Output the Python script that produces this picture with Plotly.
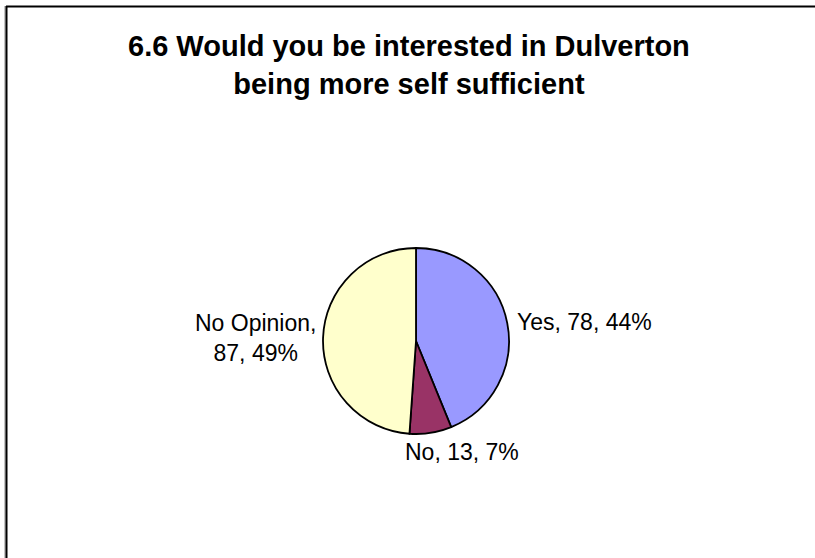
import math
import plotly.graph_objects as go

# ---- data ----
categories = ["Yes", "No", "No Opinion"]
counts = [78, 13, 87]
title_lines = ["6.6 Would you be interested in Dulverton", "being more self sufficient"]

# ---- styles ----
colors = ["#9999FF", "#993366", "#FFFFCC"]
label_sep = [" ", " ", "<br>"]          # Excel wrapped the left label
label_anchor = ["left", "center", "right"]
label_yanchor = ["middle", "top", "middle"]
label_radius = [1.08, 1.05, 1.05]
label_xshift = [0, 31, 0]

W, H = 815, 558
cx, cy, r = 416, 341, 93
FONT = "Liberation Sans, Arial, Helvetica, sans-serif"

fig = go.Figure()
fig.add_trace(go.Pie(
    labels=categories,
    values=counts,
    sort=False,
    direction="clockwise",
    rotation=0,
    marker=dict(colors=colors, line=dict(color="black", width=1.8)),
    textinfo="none",
    hoverinfo="label+value+percent",
    showlegend=False,
    domain=dict(x=[(cx - r) / W, (cx + r) / W], y=[(H - cy - r) / H, (H - cy + r) / H]),
))

# data labels, placed at each slice's mid-angle (clockwise from 12 o'clock)
total = sum(counts)
annotations = []
cum = 0
for i, (cat, val) in enumerate(zip(categories, counts)):
    mid = (cum + val / 2) / total * 2 * math.pi
    cum += val
    R = r * label_radius[i]
    px = cx + R * math.sin(mid)
    py = cy - R * math.cos(mid)
    pct = round(100 * val / total)
    annotations.append(dict(
        x=px / W, y=1 - py / H, xref="paper", yref="paper",
        text=f"{cat},{label_sep[i]}{val}, {pct}%",
        showarrow=False, xanchor=label_anchor[i], yanchor=label_yanchor[i],
        xshift=label_xshift[i], align="center",
        font=dict(family=FONT, size=23, color="black"),
    ))

annotations.append(dict(
    x=0.5 + 1.5 / W, y=1 - 65 / H, xref="paper", yref="paper",
    text="<br>".join(title_lines), showarrow=False,
    xanchor="center", yanchor="middle", align="center",
    font=dict(family=FONT, size=29, color="black", weight="bold"),
))

fig.update_layout(
    width=W, height=H,
    margin=dict(l=0, r=0, t=0, b=0),
    paper_bgcolor="white",
    plot_bgcolor="white",
    annotations=annotations,
    shapes=[
        dict(type="line", xref="paper", yref="paper", x0=5 / W, x1=5 / W, y0=-0.1, y1=1 - 6 / H,
             line=dict(color="#888888", width=1)),
        dict(type="line", xref="paper", yref="paper", x0=6.5 / W, x1=6.5 / W, y0=-0.1, y1=1 - 6 / H,
             line=dict(color="black", width=2)),
        dict(type="line", xref="paper", yref="paper", x0=6 / W, x1=1.1, y0=1 - 6.5 / H, y1=1 - 6.5 / H,
             line=dict(color="black", width=2)),
    ],
)

fig.write_html(
    "out.html",
    config={"displayModeBar": False},
    post_script="document.body.style.margin='0';document.body.style.overflow='hidden';",
)
